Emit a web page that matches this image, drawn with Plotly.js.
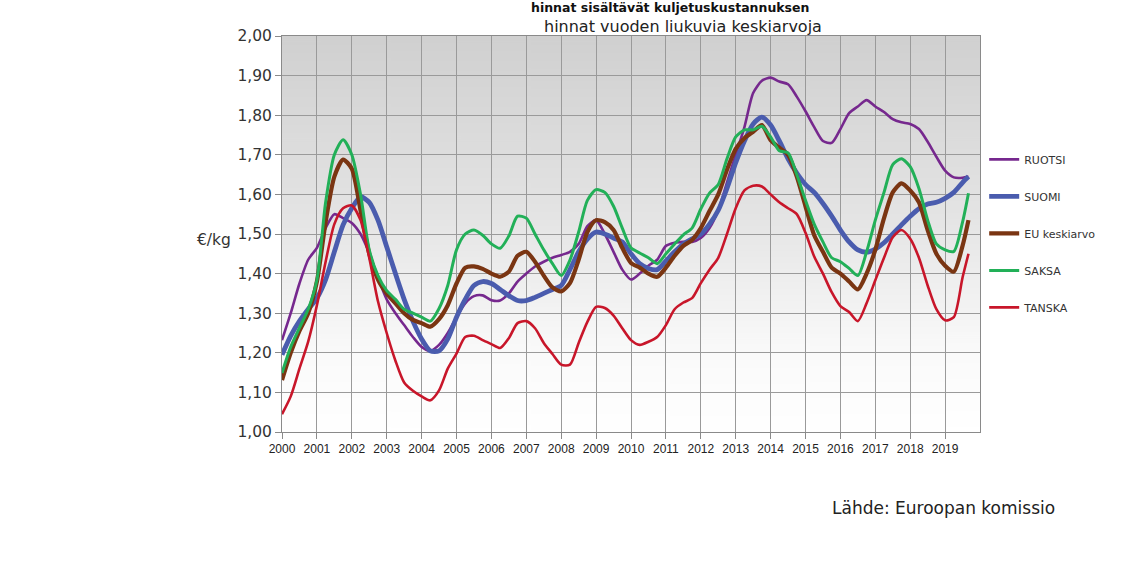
<!DOCTYPE html>
<html>
<head>
<meta charset="utf-8">
<script src="https://cdn.plot.ly/plotly-3.0.1.min.js"></script>
<style>html,body{margin:0;padding:0;background:#fff;}#chart{width:1140px;height:570px;}</style>
</head>
<body>
<div id="chart"></div>
<script>
// Decimal years (quarterly readings of the 12-month moving averages)
const years = [
 2000.00,2000.25,2000.50,2000.75, 2001.00,2001.25,2001.50,2001.75,
 2002.00,2002.25,2002.50,2002.75, 2003.00,2003.25,2003.50,2003.75,
 2004.00,2004.25,2004.50,2004.75, 2005.00,2005.25,2005.50,2005.75,
 2006.00,2006.25,2006.50,2006.75, 2007.00,2007.25,2007.50,2007.75,
 2008.00,2008.25,2008.50,2008.75, 2009.00,2009.25,2009.50,2009.75,
 2010.00,2010.25,2010.50,2010.75, 2011.00,2011.25,2011.50,2011.75,
 2012.00,2012.25,2012.50,2012.75, 2013.00,2013.25,2013.50,2013.75,
 2014.00,2014.25,2014.50,2014.75, 2015.00,2015.25,2015.50,2015.75,
 2016.00,2016.25,2016.50,2016.75, 2017.00,2017.25,2017.50,2017.75,
 2018.00,2018.25,2018.50,2018.75, 2019.00,2019.25,2019.50,2019.67
];

const ruotsi = [
 1.232,1.300,1.375,1.435, 1.465,1.515,1.550,1.540,
 1.528,1.500,1.452,1.390, 1.335,1.300,1.270,1.240,
 1.215,1.205,1.220,1.250, 1.290,1.325,1.343,1.345,
 1.333,1.332,1.350,1.380, 1.400,1.418,1.430,1.440,
 1.447,1.455,1.475,1.520, 1.535,1.500,1.455,1.410,
 1.385,1.400,1.420,1.435, 1.470,1.478,1.480,1.480,
 1.490,1.515,1.560,1.630, 1.700,1.770,1.856,1.887,
 1.895,1.885,1.878,1.847, 1.810,1.770,1.735,1.730,
 1.765,1.805,1.822,1.838, 1.822,1.808,1.790,1.782,
 1.778,1.765,1.733,1.695, 1.660,1.643,1.642,1.645
];

const suomi = [
 1.195,1.243,1.280,1.310, 1.338,1.385,1.455,1.523,
 1.565,1.594,1.580,1.535, 1.468,1.400,1.335,1.280,
 1.235,1.205,1.205,1.235, 1.290,1.335,1.370,1.380,
 1.375,1.360,1.344,1.332, 1.332,1.340,1.350,1.360,
 1.370,1.410,1.455,1.487, 1.505,1.500,1.490,1.480,
 1.450,1.425,1.413,1.410, 1.432,1.455,1.475,1.488,
 1.500,1.525,1.560,1.615, 1.680,1.735,1.778,1.795,
 1.775,1.735,1.690,1.654, 1.625,1.605,1.577,1.545,
 1.510,1.480,1.460,1.454, 1.462,1.478,1.500,1.523,
 1.545,1.564,1.576,1.580, 1.590,1.605,1.630,1.645
];

const euKeskiarvo = [
 1.131,1.200,1.255,1.300, 1.380,1.530,1.645,1.688,
 1.665,1.560,1.450,1.385, 1.350,1.325,1.300,1.283,
 1.275,1.266,1.285,1.320, 1.375,1.415,1.418,1.412,
 1.400,1.392,1.405,1.445, 1.455,1.430,1.395,1.365,
 1.355,1.376,1.435,1.505, 1.535,1.530,1.510,1.465,
 1.427,1.415,1.400,1.392, 1.415,1.445,1.470,1.485,
 1.515,1.558,1.600,1.662, 1.715,1.742,1.758,1.775,
 1.737,1.718,1.700,1.645, 1.570,1.497,1.455,1.415,
 1.400,1.380,1.360,1.400, 1.460,1.540,1.605,1.628,
 1.610,1.580,1.510,1.450, 1.420,1.405,1.470,1.535
];

const saksa = [
 1.149,1.215,1.263,1.310, 1.384,1.580,1.700,1.738,
 1.700,1.600,1.460,1.395, 1.357,1.335,1.310,1.300,
 1.290,1.280,1.312,1.370, 1.460,1.500,1.510,1.497,
 1.475,1.464,1.495,1.545, 1.540,1.500,1.460,1.425,
 1.395,1.434,1.505,1.585, 1.612,1.605,1.570,1.515,
 1.465,1.452,1.440,1.425, 1.450,1.475,1.498,1.515,
 1.563,1.603,1.625,1.690, 1.745,1.763,1.763,1.772,
 1.745,1.710,1.705,1.650, 1.585,1.525,1.480,1.440,
 1.430,1.413,1.395,1.455, 1.535,1.605,1.675,1.690,
 1.670,1.615,1.535,1.475, 1.460,1.456,1.530,1.603
];

const tanska = [
 1.045,1.090,1.160,1.228, 1.320,1.430,1.525,1.565,
 1.572,1.535,1.440,1.330, 1.250,1.180,1.125,1.104,
 1.090,1.080,1.105,1.160, 1.198,1.240,1.243,1.232,
 1.222,1.212,1.237,1.275, 1.280,1.262,1.225,1.197,
 1.170,1.170,1.225,1.278, 1.316,1.313,1.294,1.262,
 1.232,1.220,1.228,1.240, 1.270,1.310,1.327,1.338,
 1.376,1.410,1.440,1.500, 1.565,1.610,1.622,1.620,
 1.600,1.580,1.565,1.550, 1.503,1.443,1.400,1.353,
 1.318,1.303,1.280,1.325, 1.383,1.440,1.492,1.510,
 1.488,1.440,1.370,1.310, 1.282,1.290,1.390,1.450
];

const seriesNames = ['RUOTSI', 'SUOMI', 'EU keskiarvo', 'SAKSA', 'TANSKA'];
const tickYears = [2000,2001,2002,2003,2004,2005,2006,2007,2008,2009,2010,2011,2012,2013,2014,2015,2016,2017,2018,2019];
const tickLabels = ['2000','2001','2002','2003','2004','2005','2006','2007','2008','2009','2010','2011','2012','2013','2014','2015','2016','2017','2018','2019'];

const seriesData = [ruotsi, suomi, euKeskiarvo, saksa, tanska];
const colors = ['#76288e', '#4a5cae', '#7a3512', '#22b058', '#c8162a'];
const widths = [2.6, 4.8, 4.2, 3.0, 2.6];

const traces = seriesData.map((vals, i) => ({
  type: 'scatter', mode: 'lines',
  x: years, y: vals, name: seriesNames[i],
  legendgroup: 'g' + i,
  line: {color: colors[i], width: widths[i], shape: 'spline', smoothing: 0.7}
}));

// vertical gray gradient for the plot background
const cv = document.createElement('canvas');
cv.width = 10; cv.height = 400;
const ctx = cv.getContext('2d');
const grd = ctx.createLinearGradient(0, 0, 0, 400);
grd.addColorStop(0, '#d0d0d0');
grd.addColorStop(0.45, '#e4e4e4');
grd.addColorStop(0.8, '#fafafa');
grd.addColorStop(1, '#ffffff');
ctx.fillStyle = grd; ctx.fillRect(0, 0, 10, 400);
const bgUrl = cv.toDataURL('image/png');

const font = 'DejaVu Sans, Verdana, sans-serif';

const layout = {
  width: 1140, height: 570,
  margin: {l: 282, r: 160, t: 36, b: 138},
  paper_bgcolor: '#ffffff',
  plot_bgcolor: 'rgba(0,0,0,0)',
  separators: ', ',
  showlegend: true,
  legend: {
    x: 1.006, xanchor: 'left', y: 0.725, yanchor: 'top',
    font: {family: font, size: 11, color: '#333'},
    tracegroupgap: 18, bgcolor: 'rgba(0,0,0,0)'
  },
  xaxis: {
    range: [2000, 2020], tickmode: 'array', tickvals: tickYears, ticktext: tickLabels,
    showgrid: true, gridcolor: '#9a9a9a', gridwidth: 1,
    showline: true, linecolor: '#8a8a8a', mirror: true, linewidth: 1,
    ticks: 'outside', ticklen: 6, tickcolor: '#8a8a8a',
    tickfont: {family: 'Liberation Sans, Arial, sans-serif', size: 12, color: '#222'},
    zeroline: false
  },
  yaxis: {
    range: [1, 2], dtick: 0.1, tick0: 1, tickformat: '.2f',
    showgrid: true, gridcolor: '#9a9a9a', gridwidth: 1,
    showline: true, linecolor: '#8a8a8a', mirror: true, linewidth: 1,
    ticks: 'outside', ticklen: 6, tickcolor: '#8a8a8a',
    tickfont: {family: font, size: 15.5, color: '#333'},
    zeroline: false
  },
  images: [{
    source: bgUrl, xref: 'paper', yref: 'paper', x: 0, y: 1, sizex: 1, sizey: 1,
    xanchor: 'left', yanchor: 'top', sizing: 'stretch', layer: 'below'
  }],
  annotations: [
    {text: '<b>hinnat sisältävät kuljetuskustannuksen</b>', xref: 'paper', yref: 'paper',
     x: 0.556, y: 1.0715, xanchor: 'center', yanchor: 'middle', showarrow: false,
     font: {family: font, size: 12.5, color: '#111'}},
    {text: 'hinnat vuoden liukuvia keskiarvoja', xref: 'paper', yref: 'paper',
     x: 0.5745, y: 1.0245, xanchor: 'center', yanchor: 'middle', showarrow: false,
     font: {family: font, size: 16, color: '#222'}},
    {text: '€/kg', xref: 'paper', yref: 'paper', x: -0.0974, y: 0.485,
     xanchor: 'center', yanchor: 'middle', showarrow: false,
     font: {family: font, size: 15.5, color: '#333'}},
    {text: 'Lähde: Euroopan komissio', xref: 'paper', yref: 'paper', x: 0.947, y: -0.192,
     xanchor: 'center', yanchor: 'middle', showarrow: false,
     font: {family: font, size: 17, color: '#222'}}
  ]
};

Plotly.newPlot('chart', traces, layout, {displayModeBar: false, staticPlot: true});
</script>
</body>
</html>
